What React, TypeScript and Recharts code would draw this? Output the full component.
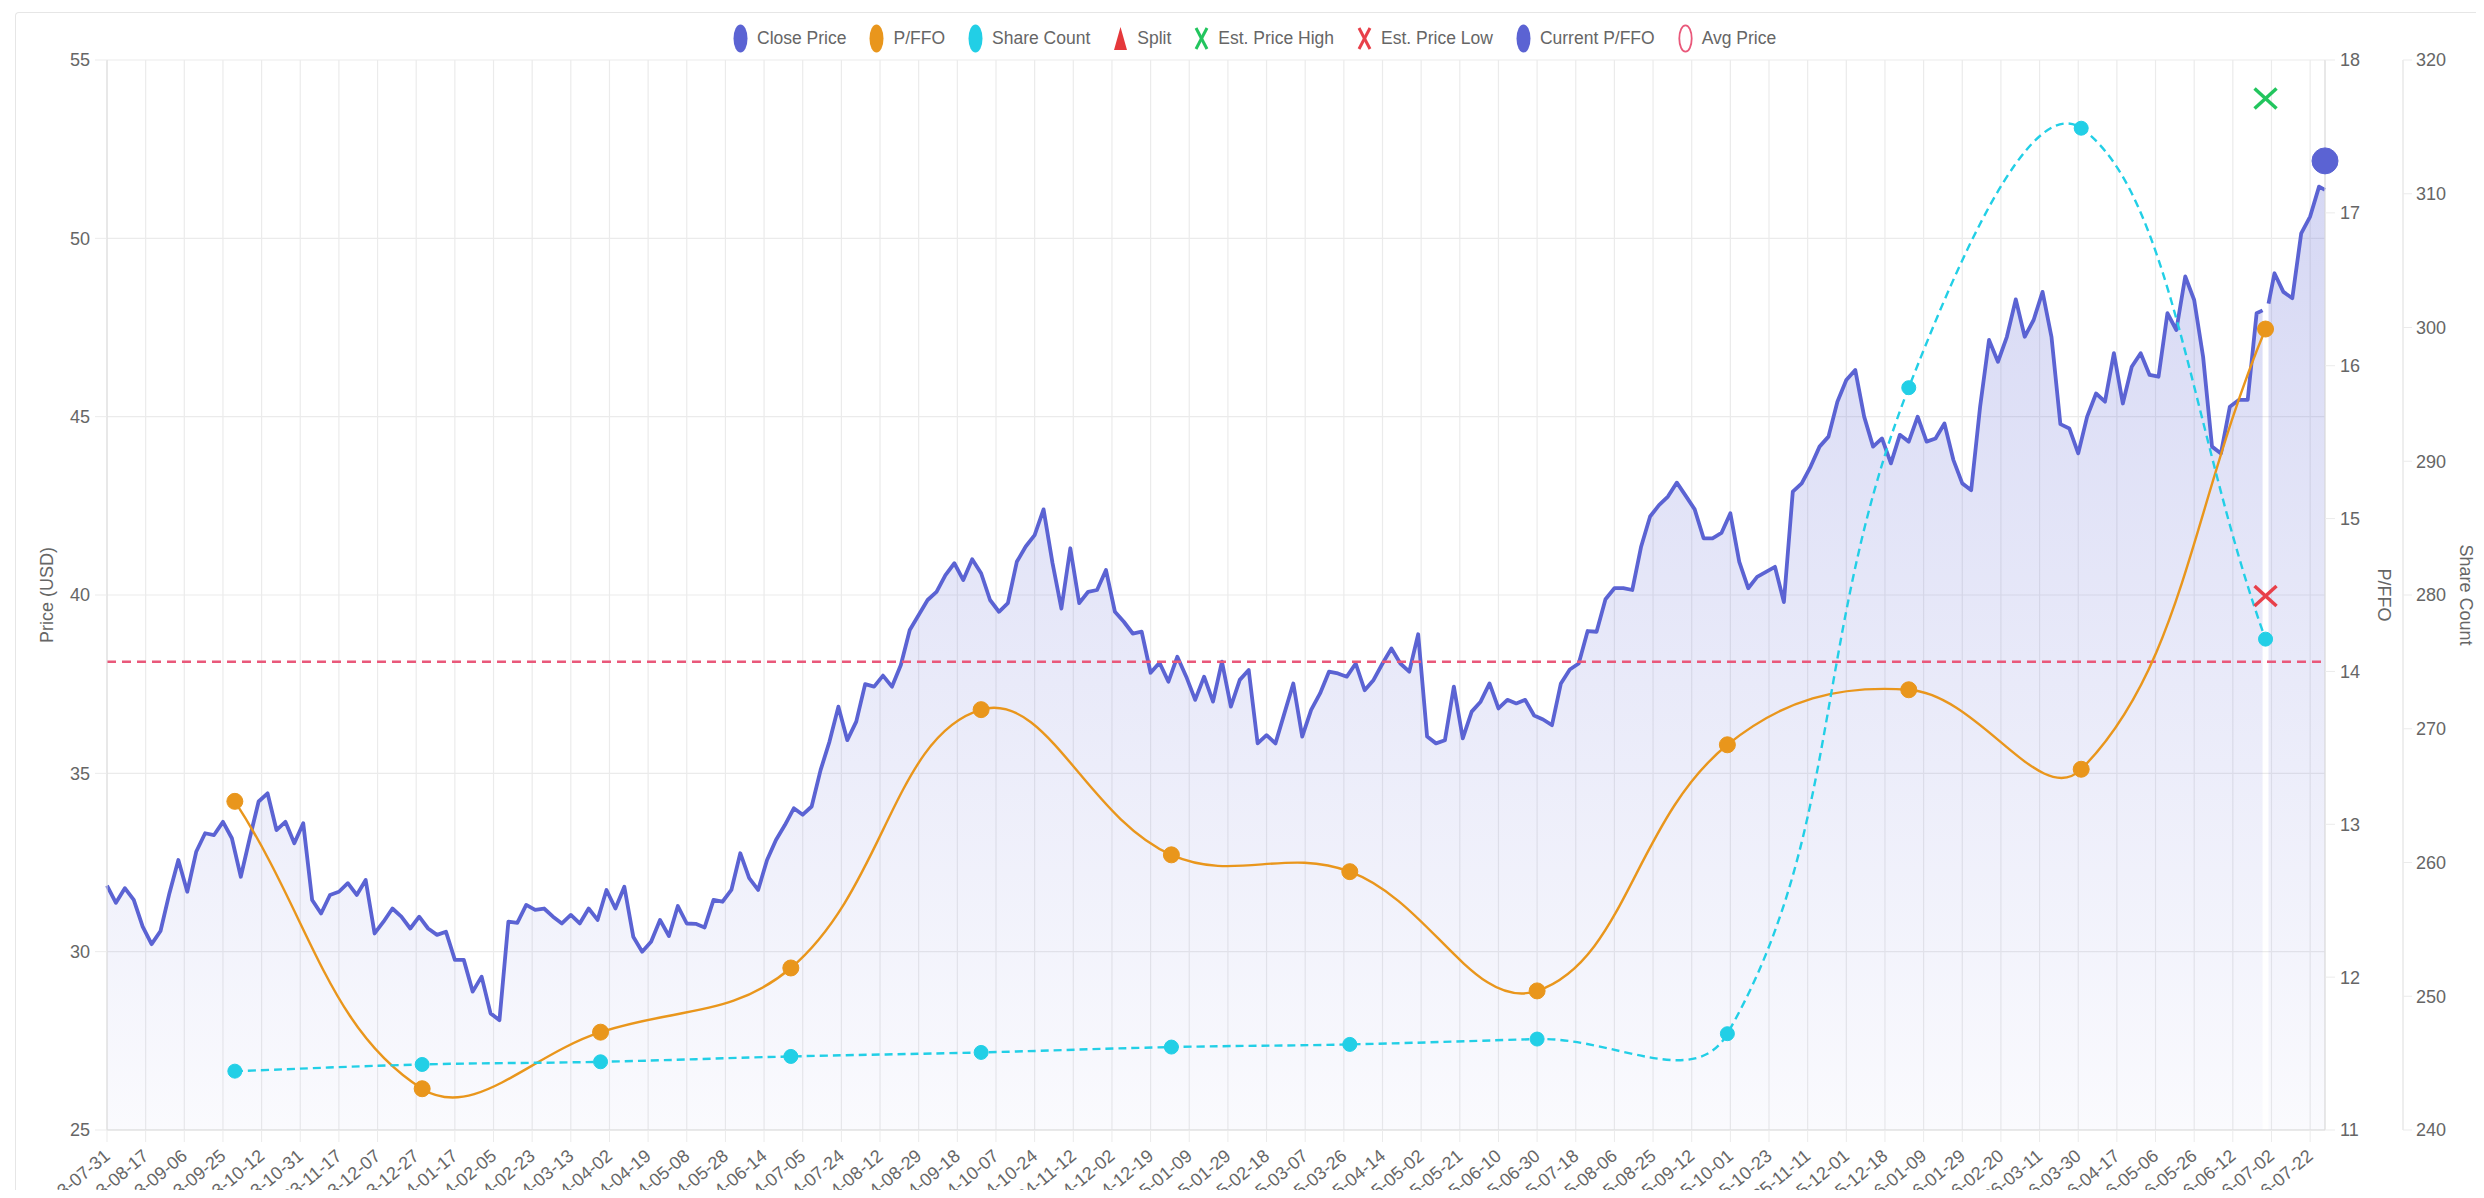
import React from "react";
import {
  ComposedChart,
  Area,
  Line,
  XAxis,
  YAxis,
  CartesianGrid,
  ReferenceLine,
} from "recharts";

// x axis labels, one every 13 trading days
const dateLabels = [
  "2023-07-31", "2023-08-17", "2023-09-06", "2023-09-25", "2023-10-12", "2023-10-31",
  "2023-11-17", "2023-12-07", "2023-12-27", "2024-01-17", "2024-02-05", "2024-02-23",
  "2024-03-13", "2024-04-02", "2024-04-19", "2024-05-08", "2024-05-28", "2024-06-14",
  "2024-07-05", "2024-07-24", "2024-08-12", "2024-08-29", "2024-09-18", "2024-10-07",
  "2024-10-24", "2024-11-12", "2024-12-02", "2024-12-19", "2025-01-09", "2025-01-29",
  "2025-02-18", "2025-03-07", "2025-03-26", "2025-04-14", "2025-05-02", "2025-05-21",
  "2025-06-10", "2025-06-30", "2025-07-18", "2025-08-06", "2025-08-25", "2025-09-12",
  "2025-10-01", "2025-10-23", "2025-11-11", "2025-12-01", "2025-12-18", "2026-01-09",
  "2026-01-29", "2026-02-20", "2026-03-11", "2026-03-30", "2026-04-17", "2026-05-06",
  "2026-05-26", "2026-06-12", "2026-07-02", "2026-07-22",
];
const labelEvery = 13;
const lastDay = 746;

// close price, read every 3rd trading day (null = missing day)
const closeStep = 3;
const closePrice = [
  31.85, 31.37, 31.78, 31.45, 30.7, 30.21, 30.58, 31.64, 32.57, 31.68,
  32.8, 33.32, 33.27, 33.64, 33.18, 32.1, 33.18, 34.21, 34.44, 33.41,
  33.64, 33.04, 33.6, 31.45, 31.07, 31.59, 31.68, 31.92, 31.59, 32.01,
  30.51, 30.84, 31.21, 30.98, 30.65, 30.98, 30.65, 30.47, 30.56, 29.77,
  29.77, 28.88, 29.3, 28.27, 28.08, 30.84, 30.81, 31.31, 31.17, 31.21,
  30.98, 30.79, 31.03, 30.79, 31.21, 30.89, 31.73, 31.21, 31.82, 30.42,
  30.0, 30.28, 30.89, 30.44, 31.28, 30.79, 30.78, 30.68, 31.45, 31.4,
  31.73, 32.76, 32.06, 31.73, 32.57, 33.13, 33.55, 34.02, 33.84, 34.07,
  35.09, 35.89, 36.87, 35.93, 36.45, 37.5, 37.43, 37.74, 37.43, 38.04,
  39.02, 39.44, 39.86, 40.09, 40.56, 40.89, 40.42, 41.0, 40.61, 39.86,
  39.53, 39.77, 40.93, 41.36, 41.68, 42.4, 40.9, 39.62, 41.31, 39.77,
  40.09, 40.14, 40.7, 39.53, 39.25, 38.92, 38.97, 37.82, 38.1, 37.57,
  38.27, 37.71, 37.06, 37.71, 37.01, 38.13, 36.87, 37.62, 37.9, 35.84,
  36.07, 35.84, 36.68, 37.52, 36.03, 36.78, 37.24, 37.85, 37.8, 37.71,
  38.08, 37.33, 37.62, 38.08, 38.5, 38.08, 37.85, 38.9, 36.03, 35.84,
  35.93, 37.43, 35.98, 36.73, 37.01, 37.52, 36.82, 37.06, 36.96, 37.06,
  36.62, 36.51, 36.35, 37.52, 37.91, 38.08, 38.99, 38.97, 39.88, 40.19,
  40.19, 40.14, 41.36, 42.2, 42.52, 42.76, 43.15, 42.78, 42.4, 41.59,
  41.59, 41.74, 42.29, 40.93, 40.19, 40.51, 40.65, 40.79, 39.8, 42.9,
  43.13, 43.6, 44.16, 44.44, 45.42, 46.03, 46.31, 45.0, 44.16, 44.39,
  43.69, 44.49, 44.3, 45.0, 44.3, 44.39, 44.81, 43.79, 43.13, 42.94,
  45.28, 47.15, 46.54, 47.24, 48.29, 47.24, 47.71, 48.5, 47.24, 44.79,
  44.67, 43.97, 45.0, 45.65, 45.42, 46.78, 45.37, 46.4, 46.78, 46.17,
  46.12, 47.9, 47.43, 48.93, 48.27, 46.68, 44.16, 43.97, 45.28, 45.47,
  45.47, 47.9, null, 49.02, 48.5, 48.32, 50.14, 50.61, 51.45,
];
// the days either side of the missing day, and the last day
const closeExtra = [
  { i: 725, price: 47.98 },
  { i: 727, price: 48.17 },
  { i: 746, price: 51.36 },
];

// quarterly points (trading-day index)
const quarterDays = [43, 106, 166, 230, 294, 358, 418, 481, 545, 606, 664, 726];
const pffoValues = [13.15, 11.27, 11.64, 12.06, 13.75, 12.8, 12.69, 11.91, 13.52, 13.88, 13.36, 16.24];
const shareCounts = [244.4, 244.9, 245.1, 245.5, 245.8, 246.2, 246.4, 246.8, 247.2, 295.5, 314.9, 276.7];

const estDay = 726;
const estPriceHigh = 53.92;
const estPriceLow = 39.97;
const currentPffo = 17.34;
const avgPrice = 38.13;

const priceTicks = [25, 30, 35, 40, 45, 50, 55];
const pffoTicks = [11, 12, 13, 14, 15, 16, 17, 18];
const shareTicks = [240, 250, 260, 270, 280, 290, 300, 310, 320];

const C = {
  price: "#5b63d3",
  pffo: "#e9961c",
  share: "#22cfe6",
  high: "#22c55e",
  low: "#e8404a",
  avg: "#e9587a",
  split: "#e5383b",
  text: "#666",
  grid: "#ebebeb",
  axis: "#dddddd",
};

const closeRows = closePrice
  .map((v, k) => ({ i: k * closeStep, price: v }))
  .concat(closeExtra)
  .sort((a, b) => a.i - b.i);
const pffoRows = quarterDays.map((d, k) => ({ i: d, v: pffoValues[k] }));
const shareRows = quarterDays.map((d, k) => ({ i: d, v: shareCounts[k] }));
const highRows = [{ i: estDay, v: estPriceHigh }];
const lowRows = [{ i: estDay, v: estPriceLow }];
const currentRows = [{ i: lastDay, v: currentPffo }];
const xTicks = dateLabels.map((_, k) => k * labelEvery);

// Chart.js style spline (tension 0.4)
const TENSION = 0.4;
function chartSpline(context: any) {
  let pts: number[][] = [];
  return {
    areaStart() {},
    areaEnd() {},
    lineStart() {
      pts = [];
    },
    point(x: number, y: number) {
      pts.push([+x, +y]);
    },
    lineEnd() {
      const n = pts.length;
      if (!n) return;
      context.moveTo(pts[0][0], pts[0][1]);
      if (n === 1) return;
      const cps = pts.map((p, k) => {
        const prev = pts[k - 1] || p;
        const next = pts[k + 1] || p;
        const d01 = Math.hypot(p[0] - prev[0], p[1] - prev[1]);
        const d12 = Math.hypot(next[0] - p[0], next[1] - p[1]);
        let s01 = d01 / (d01 + d12);
        let s12 = d12 / (d01 + d12);
        if (isNaN(s01)) s01 = 0;
        if (isNaN(s12)) s12 = 0;
        const fa = TENSION * s01;
        const fb = TENSION * s12;
        return {
          px: p[0] - fa * (next[0] - prev[0]),
          py: p[1] - fa * (next[1] - prev[1]),
          nx: p[0] + fb * (next[0] - prev[0]),
          ny: p[1] + fb * (next[1] - prev[1]),
        };
      });
      for (let k = 1; k < n; k++) {
        context.bezierCurveTo(cps[k - 1].nx, cps[k - 1].ny, cps[k].px, cps[k].py, pts[k][0], pts[k][1]);
      }
    },
  };
}

const DateTick = (props: any) => {
  const { x, y, payload } = props;
  const label = dateLabels[Math.round(payload.value / labelEvery)];
  return (
    <g transform={`translate(${x},${y + 11})`}>
      <text x={0} y={0} dy="0.35em" textAnchor="end" fill={C.text} fontSize={18} transform="rotate(-40)">
        {label}
      </text>
    </g>
  );
};

const AxisTitle = (props: any) => {
  const { viewBox, title, offX, rot } = props;
  const cx = viewBox.x + offX;
  const cy = viewBox.y + viewBox.height / 2;
  return (
    <text
      x={cx}
      y={cy}
      transform={`rotate(${rot}, ${cx}, ${cy})`}
      textAnchor="middle"
      dominantBaseline="central"
      fill={C.text}
      fontSize={18}
    >
      {title}
    </text>
  );
};

const XMark = ({ cx, cy, color }: any) => (
  <g stroke={color} strokeWidth={3.5} strokeLinecap="butt">
    <line x1={cx - 11} y1={cy - 10} x2={cx + 11} y2={cy + 10} />
    <line x1={cx - 11} y1={cy + 10} x2={cx + 11} y2={cy - 10} />
  </g>
);

const legendItems = [
  { name: "Close Price", shape: "dot", color: C.price },
  { name: "P/FFO", shape: "dot", color: C.pffo },
  { name: "Share Count", shape: "dot", color: C.share },
  { name: "Split", shape: "triangle", color: C.split },
  { name: "Est. Price High", shape: "x", color: C.high },
  { name: "Est. Price Low", shape: "x", color: C.low },
  { name: "Current P/FFO", shape: "dot", color: C.price },
  { name: "Avg Price", shape: "ring", color: C.avg },
];

const LegendIcon = ({ shape, color }: any) => (
  <svg width={15} height={29} style={{ display: "block" }}>
    {shape === "dot" && <ellipse cx={7.5} cy={14.5} rx={7} ry={14} fill={color} />}
    {shape === "ring" && <ellipse cx={7.5} cy={14.5} rx={6.2} ry={13.2} fill="#fff" stroke={color} strokeWidth={1.8} />}
    {shape === "triangle" && <polygon points="7.5,3 14,26 1,26" fill={color} />}
    {shape === "x" && (
      <g stroke={color} strokeWidth={3}>
        <line x1={2} y1={4} x2={13} y2={25} />
        <line x1={2} y1={25} x2={13} y2={4} />
      </g>
    )}
  </svg>
);

const ChartLegend = () => (
  <div
    style={{
      position: "absolute",
      top: 16,
      left: 725,
      display: "flex",
      alignItems: "center",
      fontSize: 17.5,
      color: C.text,
      whiteSpace: "nowrap",
    }}
  >
    {legendItems.map((it) => (
      <span key={it.name} style={{ display: "inline-flex", alignItems: "center", marginRight: 23 }}>
        <LegendIcon shape={it.shape} color={it.color} />
        <span style={{ marginLeft: 9 }}>{it.name}</span>
      </span>
    ))}
  </div>
);

export default function App() {
  return (
    <div
      style={{
        position: "relative",
        width: 2476,
        height: 1182,
        overflow: "hidden",
        fontFamily: "'Liberation Sans', Arial, Helvetica, sans-serif",
      }}
    >
      <div
        style={{
          position: "absolute",
          top: 4,
          left: 7,
          right: -10,
          bottom: -10,
          borderTop: "1px solid #e6e6e6",
          borderLeft: "1px solid #e6e6e6",
          borderTopLeftRadius: 4,
          pointerEvents: "none",
        }}
      />
      <ChartLegend />
      <ComposedChart width={2476} height={1262} margin={{ top: 52, right: 6, bottom: 0, left: 9 }}>
        <defs>
          <linearGradient id="priceFill" gradientUnits="userSpaceOnUse" x1={0} y1={52} x2={0} y2={1122}>
            <stop offset="0%" stopColor={C.price} stopOpacity={0.28} />
            <stop offset="100%" stopColor={C.price} stopOpacity={0.03} />
          </linearGradient>
        </defs>
        <CartesianGrid yAxisId="price" stroke={C.grid} strokeWidth={1.2} />
        <XAxis
          type="number"
          dataKey="i"
          domain={[0, lastDay]}
          ticks={xTicks}
          interval={0}
          height={140}
          tickSize={12}
          tickMargin={0}
          tickLine={{ stroke: C.grid }}
          axisLine={{ stroke: C.axis }}
          tick={<DateTick />}
        />
        <YAxis
          yAxisId="price"
          domain={[25, 55]}
          ticks={priceTicks}
          width={90}
          tickSize={12}
          tickMargin={5}
          tickLine={{ stroke: C.grid }}
          axisLine={{ stroke: C.axis }}
          tick={{ fill: C.text, fontSize: 18 }}
          label={<AxisTitle title="Price (USD)" offX={30} rot={-90} />}
        />
        <YAxis
          yAxisId="pffo"
          orientation="right"
          domain={[11, 18]}
          ticks={pffoTicks}
          width={78}
          tickSize={10}
          tickMargin={5}
          tickLine={{ stroke: C.grid }}
          axisLine={{ stroke: C.axis }}
          tick={{ fill: C.text, fontSize: 18 }}
          label={<AxisTitle title="P/FFO" offX={59} rot={90} />}
        />
        <YAxis
          yAxisId="share"
          orientation="right"
          domain={[240, 320]}
          ticks={shareTicks}
          width={75}
          tickSize={9}
          tickMargin={4}
          tickLine={{ stroke: C.grid }}
          axisLine={{ stroke: C.axis }}
          tick={{ fill: C.text, fontSize: 18 }}
          label={<AxisTitle title="Share Count" offX={63} rot={90} />}
        />
        <Area
          data={closeRows}
          dataKey="price"
          yAxisId="price"
          type="linear"
          stroke={C.price}
          strokeWidth={3.8}
          strokeLinejoin="round"
          fill="url(#priceFill)"
          fillOpacity={1}
          dot={false}
          activeDot={false}
          connectNulls={false}
          isAnimationActive={false}
        />
        <ReferenceLine yAxisId="price" y={avgPrice} stroke={C.avg} strokeWidth={2.5} strokeDasharray="9 6" />
        <Line
          data={pffoRows}
          dataKey="v"
          yAxisId="pffo"
          type={chartSpline as any}
          stroke={C.pffo}
          strokeWidth={2.4}
          dot={{ r: 8, fill: C.pffo, stroke: C.pffo, strokeWidth: 1 }}
          activeDot={false}
          isAnimationActive={false}
        />
        <Line
          data={shareRows}
          dataKey="v"
          yAxisId="share"
          type={chartSpline as any}
          stroke={C.share}
          strokeWidth={2.4}
          strokeDasharray="8 5"
          dot={{ r: 7, fill: C.share, stroke: C.share, strokeWidth: 1, strokeDasharray: "" }}
          activeDot={false}
          isAnimationActive={false}
        />
        <Line
          data={highRows}
          dataKey="v"
          yAxisId="price"
          stroke="none"
          dot={(p: any) => <XMark key="hi" cx={p.cx} cy={p.cy} color={C.high} />}
          activeDot={false}
          isAnimationActive={false}
        />
        <Line
          data={lowRows}
          dataKey="v"
          yAxisId="price"
          stroke="none"
          dot={(p: any) => <XMark key="lo" cx={p.cx} cy={p.cy} color={C.low} />}
          activeDot={false}
          isAnimationActive={false}
        />
        <Line
          data={currentRows}
          dataKey="v"
          yAxisId="pffo"
          stroke="none"
          dot={{ r: 13, fill: C.price, stroke: C.price, strokeWidth: 1 }}
          activeDot={false}
          isAnimationActive={false}
        />
      </ComposedChart>
    </div>
  );
}
